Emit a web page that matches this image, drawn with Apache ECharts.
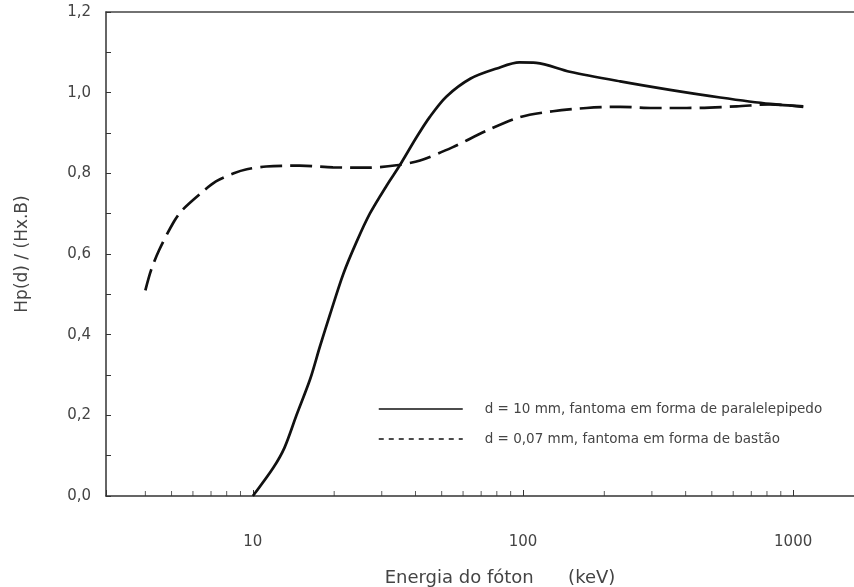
<!DOCTYPE html>
<html>
<head>
<meta charset="utf-8">
<script src="https://cdn.jsdelivr.net/npm/echarts@6/dist/echarts.min.js"></script>
<style>
  html, body { margin: 0; padding: 0; background: #fff; }
  #chart { width: 854px; height: 587px; }
</style>
</head>
<body>
<div id="chart"></div>
<script>
// d = 10 mm, paralelepípedo (solid)
const energySolid = [10, 11.9, 13.1, 14.5, 16.3, 17.7, 19.3, 21.6, 24.2, 27.1, 31.3, 35, 40.4, 45.2, 52, 64, 80, 97, 112, 149, 229, 350, 537, 822, 1090];
const hpSolid = [0, 0.07, 0.12, 0.2, 0.29, 0.37, 0.45, 0.55, 0.63, 0.7, 0.77, 0.82, 0.89, 0.94, 0.99, 1.035, 1.06, 1.075, 1.074, 1.052, 1.028, 1.007, 0.988, 0.972, 0.966];

// d = 0,07 mm, bastão (dashed)
const energyDashed = [4, 4.2, 4.5, 5.1, 5.5, 6.4, 7.3, 8.5, 9.5, 11.2, 14.9, 19.8, 26.4, 34, 41.6, 55, 73, 97, 129, 172, 229, 303, 404, 618, 822, 1090];
const hpDashed = [0.51, 0.56, 0.61, 0.68, 0.71, 0.75, 0.78, 0.8, 0.81, 0.817, 0.819, 0.815, 0.814, 0.82, 0.832, 0.865, 0.905, 0.939, 0.954, 0.962, 0.965, 0.962, 0.962, 0.966, 0.971, 0.965];

const seriesNames = ['d = 10 mm, fantoma em forma de paralelepipedo', 'd = 0,07 mm, fantoma em forma de bastão'];
const xLabels = [10, 100, 1000];
const xMinorTicks = [4, 5, 6, 7, 8, 9, 20, 30, 40, 50, 60, 70, 80, 90, 200, 300, 400, 500, 600, 700, 800, 900];

const xMin = 2.86, xMax = 1680;
const ink = '#111';
const textCol = '#444';
const font = 'DejaVu Sans';

const chart = echarts.init(document.getElementById('chart'), null, {renderer: 'canvas'});

const pairs = (xs, ys) => xs.map((x, i) => [x, ys[i]]);

const opts = {
  backgroundColor: '#fff',
  animation: false,
  grid: {left: 106, right: 0, top: 12, bottom: 91, outerBoundsMode: 'none'},
  legend: {
    left: 373,
    top: 397,
    orient: 'vertical',
    itemWidth: 84,
    itemHeight: 14,
    itemGap: 16,
    textStyle: {fontFamily: font, fontSize: 13.5, color: textCol, padding: [0, 0, 0, 17]},
    data: [
      {name: seriesNames[0], itemStyle: {color: 'transparent', borderWidth: 0}, lineStyle: {width: 1.5, type: 'solid'}},
      {name: seriesNames[1], itemStyle: {color: 'transparent', borderWidth: 0}, lineStyle: {width: 1.5, type: [5, 5]}}
    ]
  },
  xAxis: [
    {
      type: 'log',
      logBase: 10,
      min: xMin,
      max: xMax,
      name: 'Energia do fóton      (keV)',
      nameLocation: 'middle',
      nameGap: 73,
      nameTextStyle: {fontFamily: font, fontSize: 18, color: textCol, padding: [0, 0, 0, 40]},
      axisLine: {lineStyle: {color: '#333', width: 1.5}},
      axisTick: {inside: true, length: 6, lineStyle: {color: '#333'}},
      splitLine: {show: false},
      axisLabel: {
        margin: 39,
        fontFamily: font,
        fontSize: 15,
        color: textCol,
        formatter: v => {
          const hit = xLabels.find(l => Math.abs(v - l) / l < 1e-6);
          return hit ? String(hit) : '';
        }
      }
    },
    {
      type: 'log',
      logBase: 10,
      min: xMin,
      max: xMax,
      position: 'top',
      axisLine: {show: true, lineStyle: {color: '#444', width: 1.5}},
      axisTick: {show: false},
      axisLabel: {show: false},
      splitLine: {show: false}
    }
  ],
  yAxis: {
    type: 'value',
    min: 0,
    max: 1.2,
    interval: 0.2,
    name: 'Hp(d) / (Hx.B)',
    nameLocation: 'middle',
    nameGap: 75,
    nameTextStyle: {fontFamily: font, fontSize: 17, color: textCol},
    axisLine: {show: true, lineStyle: {color: '#333', width: 1.5}},
    axisTick: {show: true, inside: true, length: 5, lineStyle: {color: '#333'}},
    minorTick: {show: true, splitNumber: 2, length: 5, lineStyle: {color: '#333'}},
    splitLine: {show: false},
    axisLabel: {
      margin: 15,
      fontFamily: font,
      fontSize: 15,
      color: textCol,
      formatter: v => v.toFixed(1).replace('.', ',')
    }
  },
  series: [
    {
      name: seriesNames[0],
      type: 'line',
      data: pairs(energySolid, hpSolid),
      smooth: 0.3,
      symbol: 'none',
      lineStyle: {color: ink, width: 2.7, type: 'solid'},
      itemStyle: {color: ink}
    },
    {
      name: seriesNames[1],
      type: 'line',
      data: pairs(energyDashed, hpDashed),
      smooth: 0.3,
      symbol: 'none',
      lineStyle: {color: ink, width: 2.7, type: [22, 8]},
      itemStyle: {color: ink}
    },
    {
      // log minor ticks on the energy axis
      name: 'minorTicks',
      type: 'scatter',
      silent: true,
      data: xMinorTicks.map(v => [v, 0]),
      symbol: 'rect',
      symbolSize: [1, 5],
      symbolOffset: [0, -2.5],
      itemStyle: {color: '#333'},
      z: 1
    }
  ]
};

chart.setOption(opts);
</script>
</body>
</html>
